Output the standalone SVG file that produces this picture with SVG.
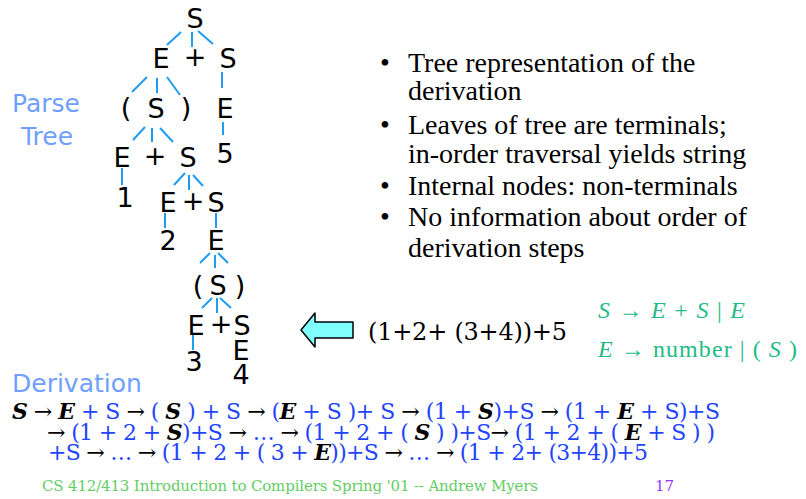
<svg xmlns="http://www.w3.org/2000/svg" width="806" height="499" viewBox="0 0 806 499">
<style>
.t{font-family:"DejaVu Sans",Verdana,sans-serif;font-size:27px;fill:#000;text-anchor:middle}
.lbl{font-family:"DejaVu Sans",sans-serif;font-size:25px;fill:#6fa0ff}
.bul{font-family:"Liberation Serif","Times New Roman",serif;font-size:28px;fill:#000}
.gr{font-family:"Liberation Serif","Times New Roman",serif;font-size:24px;fill:#1fbb88}
.gr .i{font-style:italic}
.d{font-family:"DejaVu Serif",Georgia,serif;font-size:22px}
.b{fill:#2244ff}
.a{fill:#000}
.k{fill:#000;font-weight:bold;font-style:italic}
#edges line{stroke:#1e9cf0;stroke-width:2}
</style>
<rect width="806" height="499" fill="#fff"/>
<text class="lbl" x="46" y="112" text-anchor="middle">Parse</text>
<text class="lbl" x="47" y="145" text-anchor="middle">Tree</text>
<text class="lbl" x="12" y="392">Derivation</text>
<g id="edges">
<line x1="181" y1="32" x2="167" y2="45"/>
<line x1="192" y1="32" x2="192" y2="47"/>
<line x1="198" y1="31" x2="213" y2="44"/>
<line x1="147" y1="77" x2="132" y2="92"/>
<line x1="157" y1="78" x2="157" y2="93"/>
<line x1="167" y1="77" x2="180" y2="95"/>
<line x1="222" y1="72" x2="222" y2="88"/>
<line x1="223" y1="122" x2="223" y2="135"/>
<line x1="145" y1="127" x2="133" y2="140"/>
<line x1="152" y1="128" x2="152" y2="142"/>
<line x1="160" y1="128" x2="173" y2="142"/>
<line x1="122" y1="168" x2="122" y2="185"/>
<line x1="185" y1="173" x2="174" y2="185"/>
<line x1="189" y1="175" x2="189" y2="190"/>
<line x1="193" y1="175" x2="203" y2="186"/>
<line x1="165" y1="213" x2="165" y2="228"/>
<line x1="216" y1="213" x2="216" y2="228"/>
<line x1="210" y1="253" x2="200" y2="263"/>
<line x1="215" y1="255" x2="215" y2="268"/>
<line x1="218" y1="253" x2="228" y2="263"/>
<line x1="212" y1="298" x2="202" y2="308"/>
<line x1="217" y1="298" x2="217" y2="313"/>
<line x1="220" y1="298" x2="231" y2="308"/>
<line x1="193" y1="334" x2="193" y2="350"/>
</g>
<g id="n1"><text class="t" x="195" y="28">S</text></g>
<g id="n2"><text class="t" x="161" y="68">E</text></g>
<g id="n3"><text class="t" x="195" y="66">+</text></g>
<g id="n4"><text class="t" x="228" y="68">S</text></g>
<g id="n5"><text class="t" x="126" y="117">(</text></g>
<g id="n6"><text class="t" x="156" y="118">S</text></g>
<g id="n7"><text class="t" x="186" y="117">)</text></g>
<g id="n8"><text class="t" x="225" y="118">E</text></g>
<g id="n9"><text class="t" x="122" y="167">E</text></g>
<g id="n10"><text class="t" x="155" y="165">+</text></g>
<g id="n11"><text class="t" x="188" y="167">S</text></g>
<g id="n12"><text class="t" x="225" y="163">5</text></g>
<g id="n13"><text class="t" x="125" y="207">1</text></g>
<g id="n14"><text class="t" x="168" y="212">E</text></g>
<g id="n15"><text class="t" x="193" y="210">+</text></g>
<g id="n16"><text class="t" x="216" y="212">S</text></g>
<g id="n17"><text class="t" x="168" y="250">2</text></g>
<g id="n18"><text class="t" x="216" y="250">E</text></g>
<g id="n19"><text class="t" x="198" y="295">(</text></g>
<g id="n20"><text class="t" x="218" y="295">S</text></g>
<g id="n21"><text class="t" x="240" y="295">)</text></g>
<g id="n22"><text class="t" x="196" y="335">E</text></g>
<g id="n23"><text class="t" x="221" y="333">+</text></g>
<g id="n24"><text class="t" x="242" y="335">S</text></g>
<g id="n25"><text class="t" x="194" y="371">3</text></g>
<g id="n26"><text class="t" x="241" y="360">E</text></g>
<g id="n27"><text class="t" x="241" y="384">4</text></g>
<g id="bullets" class="bul">
<text x="380" y="72">•</text><text x="408" y="72">Tree representation of the</text>
<text x="408" y="100">derivation</text>
<text x="380" y="134">•</text><text x="408" y="134">Leaves of tree are terminals;</text>
<text x="408" y="163">in-order traversal yields string</text>
<text x="380" y="195">•</text><text x="408" y="195">Internal nodes: non-terminals</text>
<text x="380" y="226">•</text><text x="408" y="226">No information about order of</text>
<text x="408" y="257">derivation steps</text>
</g>
<g id="arrow"><path d="M301,330 L315,313 L315,322 L353,322 L353,338 L315,338 L315,347 Z" fill="#80ffff" stroke="#000" stroke-width="1.5" stroke-linejoin="round"/></g>
<g id="expr"><text x="368" y="340" font-family="DejaVu Serif,Georgia,serif" font-size="24" fill="#000" textLength="199">(1+2+ (3+4))+5</text></g>
<g id="grammar" class="gr">
<text x="598" y="318" textLength="147"><tspan class="i">S</tspan> →  <tspan class="i">E</tspan> + <tspan class="i">S</tspan> | <tspan class="i">E</tspan></text>
<text x="598" y="357" textLength="199"><tspan class="i">E</tspan> → number | ( <tspan class="i">S</tspan> )</text>
</g>
<g id="derivation" class="d">
<text x="12" y="419" textLength="708"><tspan class="k">S</tspan><tspan class="a"> → </tspan><tspan class="k">E</tspan><tspan class="b"> + S </tspan><tspan class="a">→ </tspan><tspan class="b">( </tspan><tspan class="k">S</tspan><tspan class="b"> ) + S </tspan><tspan class="a">→ </tspan><tspan class="b">(</tspan><tspan class="k">E</tspan><tspan class="b"> + S )+ S </tspan><tspan class="a">→ </tspan><tspan class="b">(1 + </tspan><tspan class="k">S</tspan><tspan class="b">)+S </tspan><tspan class="a">→ </tspan><tspan class="b">(1 + </tspan><tspan class="k">E</tspan><tspan class="b"> + S)+S</tspan></text>
<text x="47" y="440" textLength="668"><tspan class="a">→ </tspan><tspan class="b">(1 + 2 + </tspan><tspan class="k">S</tspan><tspan class="b">)+S </tspan><tspan class="a">→ </tspan><tspan class="b">… </tspan><tspan class="a">→ </tspan><tspan class="b">(1 + 2 + ( </tspan><tspan class="k">S</tspan><tspan class="b"> ) )+S</tspan><tspan class="a">→ </tspan><tspan class="b">(1 + 2 + ( </tspan><tspan class="k">E</tspan><tspan class="b"> + S ) )</tspan></text>
<text x="48" y="460" textLength="600"><tspan class="b">+S </tspan><tspan class="a">→ </tspan><tspan class="b">… </tspan><tspan class="a">→ </tspan><tspan class="b">(1 + 2 + ( 3 + </tspan><tspan class="k">E</tspan><tspan class="b">))+S </tspan><tspan class="a">→ </tspan><tspan class="b">… </tspan><tspan class="a">→ </tspan><tspan class="b">(1 + 2+ (3+4))+5</tspan></text>
</g>
<g id="footer">
<text x="42" y="491" font-family="DejaVu Serif,Georgia,serif" font-size="15" fill="#66cc66" textLength="496">CS 412/413 Introduction to Compilers Spring '01 -- Andrew Myers</text>
<text x="655" y="491" font-family="DejaVu Serif,Georgia,serif" font-size="15" fill="#9933ff">17</text>
</g>
</svg>
